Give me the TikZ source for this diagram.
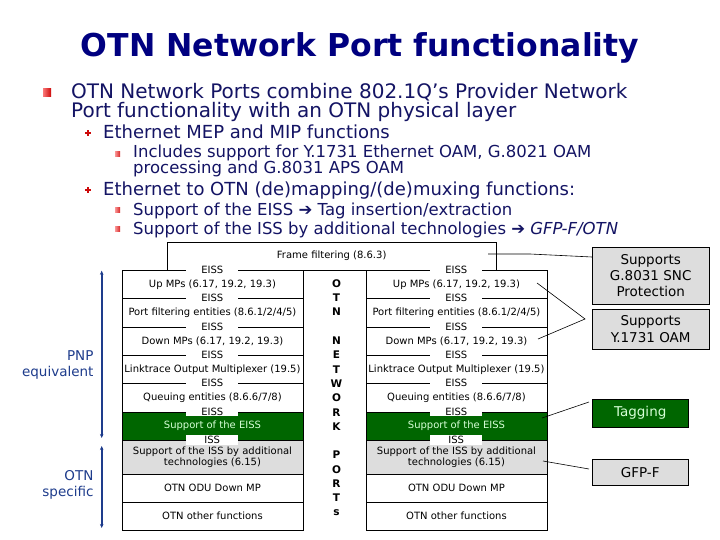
\documentclass[tikz,border=0pt]{standalone}
\usepackage{fontspec}
\setmainfont{DejaVu Sans}
\usetikzlibrary{arrows.meta}
\definecolor{navyT}{RGB}{0,0,128}
\definecolor{txtc}{RGB}{20,20,100}
\definecolor{grn}{RGB}{0,102,0}
\definecolor{lgry}{RGB}{221,221,221}
\definecolor{blu}{RGB}{30,60,140}
\definecolor{lgrn}{RGB}{214,255,214}
\definecolor{bred}{RGB}{205,10,10}
\newcommand\fs[2]{\fontsize{#1}{#2}\selectfont}
\begin{document}
\begin{tikzpicture}[x=1pt,y=-1pt,
  row/.style={draw, minimum width=181.5pt, minimum height=28.33pt, inner sep=0pt, anchor=north west, font=\fs{10}{11.6}, align=center},
  lbl/.style={fill=white, minimum width=52pt, inner xsep=0pt, inner ysep=0.9pt, font=\fs{10}{11}},
  mid/.style={font=\bfseries\fs{10.5}{12}},
  callout/.style={draw, fill=lgry, inner sep=0pt, anchor=north west, font=\fs{13.5}{16.3}, align=center},
  side/.style={anchor=east, align=right, text=blu, font=\fs{13.5}{16}},
  btxt/.style={anchor=base west, inner sep=0pt, text=txtc, align=left},
  cl/.style={draw=black, line width=0.6pt}
]
\useasboundingbox (0,0) rectangle (720,540);
\fill[white] (0,0) rectangle (720,540);

% title
\node[anchor=base, text=navyT, font=\bfseries\fs{31.5}{34}, inner sep=0pt] (title) at (360,57) {OTN Network Port functionality};

% bullets (base anchor of a two-line node is the baseline of its last line)
\shade[left color={rgb,255:red,250;green,120;blue,120}, right color=bred] (43,89) rectangle (51,97);
\node[btxt, font=\fs{20}{19}] (b1) at (71,118) {OTN Network Ports combine 802.1Q’s Provider Network\\Port functionality with an OTN physical layer};

\fill[bred] (86.6,129.7) rectangle (89.4,136.3);
\fill[bred] (85,131.6) rectangle (91,134.4);
\node[btxt, font=\fs{18}{18}] (b2) at (103,139) {Ethernet MEP and MIP functions};

\shade[left color={rgb,255:red,250;green,150;blue,150}, right color={rgb,255:red,215;green,40;blue,40}] (115,151.5) rectangle (120,156.5);
\node[btxt, font=\fs{16.5}{15.5}] (b3) at (133,174) {Includes support for Y.1731 Ethernet OAM, G.8021 OAM\\processing and G.8031 APS OAM};

\fill[bred] (86.6,186.7) rectangle (89.4,193.3);
\fill[bred] (85,188.6) rectangle (91,191.4);
\node[btxt, font=\fs{18}{18}] (b4) at (103,196) {Ethernet to OTN (de)mapping/(de)muxing functions:};

\shade[left color={rgb,255:red,250;green,150;blue,150}, right color={rgb,255:red,215;green,40;blue,40}] (115,207.5) rectangle (120,212.5);
\node[btxt, font=\fs{16.5}{15}] (b5) at (133,215) {Support of the EISS ➔ Tag insertion/extraction};
\shade[left color={rgb,255:red,250;green,150;blue,150}, right color={rgb,255:red,215;green,40;blue,40}] (115,226.5) rectangle (120,231.5);
\node[btxt, font=\fs{16.5}{15}] (b6) at (133,234) {Support of the ISS by additional technologies ➔ \textit{GFP-F/OTN}};

% frame filtering box
\node[draw, minimum width=329pt, minimum height=28pt, inner sep=0pt, anchor=north west, font=\fs{10}{11}] (ff) at (167,242) {Frame filtering (8.6.3)};

% stacks
\foreach \s/\x in {L/121.5, R/365.5}{
  \node[row] (\s0) at (\x,270) {Up MPs (6.17, 19.2, 19.3)};
  \node[row] (\s1) at (\x,298.33) {Port filtering entities (8.6.1/2/4/5)};
  \node[row] (\s2) at (\x,326.67) {Down MPs (6.17, 19.2, 19.3)};
  \node[row] (\s3) at (\x,355) {Linktrace Output Multiplexer (19.5)};
  \node[row] (\s4) at (\x,383.33) {Queuing entities (8.6.6/7/8)};
  \node[row, fill=grn, text=lgrn] (\s5) at (\x,411.67) {Support of the EISS};
  \node[row, fill=lgry, minimum height=34pt] (\s6) at (\x,440) {Support of the ISS by additional\\technologies (6.15)};
  \node[row, minimum height=28pt] (\s7) at (\x,474) {OTN ODU Down MP};
  \node[row, minimum height=28pt] (\s8) at (\x,502) {OTN other functions};
  \node[lbl] (\s e0) at (\x+90.75,270) {EISS};
  \node[lbl] (\s e1) at (\x+90.75,298.33) {EISS};
  \node[lbl] (\s e2) at (\x+90.75,326.67) {EISS};
  \node[lbl] (\s e3) at (\x+90.75,355) {EISS};
  \node[lbl] (\s e4) at (\x+90.75,383.33) {EISS};
  \node[lbl] (\s e5) at (\x+90.75,411.67) {EISS};
  \node[lbl] (\s i6) at (\x+90.75,440) {ISS};
}

% middle vertical letters
\foreach \i/\c in {0/O,1/T,2/N,4/N,5/E,6/T,7/W,8/O,9/R,10/K,12/P,13/O,14/R,15/T,16/s}{
  \node[mid] (m\i) at (336.5,283.5+14.3*\i) {\c};
}

% callouts
\node[callout, minimum width=117pt, minimum height=57pt] (c1) at (592,247) {Supports\\G.8031 SNC\\Protection};
\node[callout, minimum width=117pt, minimum height=40pt] (c2) at (592,309) {Supports\\Y.1731 OAM};
\node[callout, fill=grn, text=lgrn, minimum width=96pt, minimum height=28pt] (c3) at (592,399) {Tagging};
\node[callout, minimum width=96pt, minimum height=26pt] (c4) at (592,459) {GFP-F};

% callout connectors
\coordinate (p1) at (488,254);
\coordinate (p1b) at (530,254);
\draw[cl] (p1) -- (p1b) -- (c1.west |- 0,257);
\coordinate (q) at (585,319);
\coordinate (u1) at (537,283);
\coordinate (d1) at (538,339);
\draw[cl] (u1) -- (q) -- (d1);
\coordinate (t1) at (542,418);
\draw[cl] (t1) -- (589,402);
\coordinate (g1) at (543,461);
\draw[cl] (g1) -- (589,469);

% left brackets
\coordinate (a1) at (101.7,270.7);
\coordinate (a2) at (101.7,438);
\coordinate (a3) at (101.7,446);
\coordinate (a4) at (101.7,528);
\draw[blu, line width=1.8pt, {Stealth[length=4pt,width=3.5pt]}-{Stealth[length=4pt,width=3.5pt]}] (a1) -- (a2);
\draw[blu, line width=1.8pt, {Stealth[length=4pt,width=3.5pt]}-{Stealth[length=4pt,width=3.5pt]}] (a3) -- (a4);
\node[side] (pnp) at (97,364.5) {PNP\\equivalent};
\node[side] (otn) at (97,485) {OTN\\specific};
\end{tikzpicture}
\end{document}
